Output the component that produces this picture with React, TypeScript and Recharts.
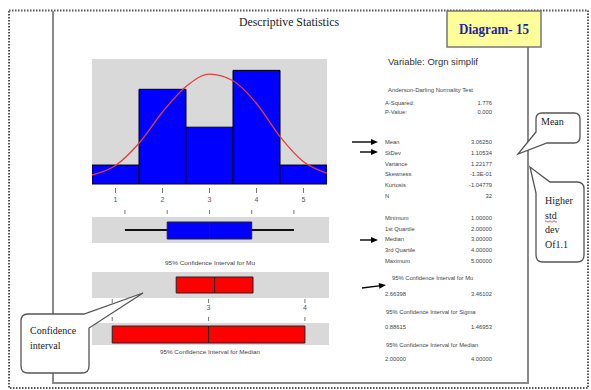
import { Bar, BarChart, CartesianGrid, Line, LineChart, XAxis, YAxis } from "recharts";

// histogram of the variable (bin centre, count) and the fitted normal curve
const BINS = [1, 2, 3, 4, 5];
const COUNTS = [2, 10, 6, 12, 2];
const CURVE_X = [0.5, 1, 1.5, 2, 2.5, 3, 3.5, 4, 4.5, 5, 5.5];
const CURVE_Y = [0.95, 1.95, 4.3, 7.6, 10.3, 11.6, 10.9, 8.5, 5.0, 2.35, 1.15];

// boxplot: min, q1, median, q3, max
const FIVE_NUMBER = [1, 2, 3, 4, 5];
const BOX_TICKS = [1, 2, 3, 4, 5];
const MEAN = 3.0625;
const MU_CI = [2.66398, 3.46102];
const MEDIAN_CI = [2, 4];
const CI_TICKS = [2, 3, 4];

const AD_LABELS = ["A-Squared:", "P-Value:"];
const AD_VALUES = ["1.776", "0.000"];
const MOMENT_LABELS = ["Mean", "StDev", "Variance", "Skewness", "Kurtosis", "N"];
const MOMENT_VALUES = ["3.06250", "1.10534", "1.22177", "-1.3E-01", "-1.04779", "32"];
const QUANTILE_LABELS = ["Minimum", "1st Quartile", "Median", "3rd Quartile", "Maximum"];
const QUANTILE_VALUES = ["1.00000", "2.00000", "3.00000", "4.00000", "5.00000"];
const SIGMA_CI = ["0.88615", "1.46953"];

const PANEL_GREY = "#d9d9d9";
const SANS = "'Liberation Sans', Arial, sans-serif";
const SERIF = "'Liberation Serif', 'Times New Roman', serif";
const STAT_TEXT = "#444";

// tick mark drawn a little away from the panel, label further out
function makeTick(side: "top" | "bottom", labels: boolean, gap = 3, len = 5, labelAt = 16) {
  return (props: any) => {
    const { x, y, payload } = props;
    const d = side === "bottom" ? 1 : -1;
    return (
      <g>
        <line x1={x} x2={x} y1={y + d * gap} y2={y + d * (gap + len)} stroke="#777" strokeWidth={1} />
        {labels && (
          <text x={x} y={y + d * labelAt} textAnchor="middle" fontSize={7} fill="#555" fontFamily={SANS}>
            {payload.value}
          </text>
        )}
      </g>
    );
  };
}

interface StripProps {
  left: number;
  top: number;
  plotHeight: number;
  axisHeight: number;
  side: "top" | "bottom";
  tick: (props: any) => any;
  domain: [number, number];
  ticks: number[];
  whisker?: [number, number];
  lower: [number, number];
  upper: [number, number];
  boxSize: number;
  fill: string;
}

function Strip(p: StripProps) {
  const data = [{ name: "s", whisker: p.whisker, lower: p.lower, upper: p.upper }];
  return (
    <div style={{ position: "absolute", left: p.left, top: p.top }}>
      <BarChart
        layout="vertical"
        width={237}
        height={p.plotHeight + p.axisHeight}
        data={data}
        margin={{ top: 0, right: 0, bottom: 0, left: 0 }}
      >
        <CartesianGrid horizontal={false} vertical={false} fill={PANEL_GREY} stroke="none" />
        <XAxis
          type="number"
          domain={p.domain}
          allowDataOverflow
          ticks={p.ticks}
          interval={0}
          orientation={p.side}
          height={p.axisHeight}
          axisLine={false}
          tickLine={false}
          tickSize={0}
          tickMargin={0}
          tick={p.tick}
        />
        {p.whisker && <YAxis yAxisId="w" type="category" dataKey="name" hide />}
        <YAxis yAxisId="lo" type="category" dataKey="name" hide />
        <YAxis yAxisId="hi" type="category" dataKey="name" hide />
        {p.whisker && <Bar yAxisId="w" dataKey="whisker" barSize={2} fill="#111" isAnimationActive={false} />}
        <Bar yAxisId="lo" dataKey="lower" barSize={p.boxSize} fill={p.fill} stroke="#222" strokeWidth={1} isAnimationActive={false} />
        <Bar yAxisId="hi" dataKey="upper" barSize={p.boxSize} fill={p.fill} stroke="#222" strokeWidth={1} isAnimationActive={false} />
      </BarChart>
    </div>
  );
}

function Arrow({ x1, y1, x2, y2 }: { x1: number; y1: number; x2: number; y2: number }) {
  const a = Math.atan2(y2 - y1, x2 - x1);
  const hx = x2 - 7 * Math.cos(a);
  const hy = y2 - 7 * Math.sin(a);
  const nx = -Math.sin(a) * 3;
  const ny = Math.cos(a) * 3;
  return (
    <g>
      <line x1={x1} y1={y1} x2={hx} y2={hy} stroke="#000" strokeWidth={1.4} />
      <polygon points={`${x2},${y2} ${hx + nx},${hy + ny} ${hx - nx},${hy - ny}`} fill="#000" />
    </g>
  );
}

function StatRows({ labels, values, y0, step }: { labels: string[]; values: string[]; y0: number; step: number }) {
  return (
    <g fontFamily={SANS} fontSize={5.8} fill={STAT_TEXT}>
      {labels.map((l, i) => (
        <g key={l}>
          <text x={385} y={y0 + i * step}>{l}</text>
          <text x={492} y={y0 + i * step} textAnchor="end">{values[i]}</text>
        </g>
      ))}
    </g>
  );
}

export default function App() {
  const histData = BINS.map((b, i) => ({ bin: b, count: COUNTS[i] }));
  const curveData = CURVE_X.map((x, i) => ({ x, y: CURVE_Y[i] }));

  return (
    <div style={{ position: "absolute", left: 0, top: 0, width: 591, height: 390, background: "#fff", overflow: "hidden" }}>
      {/* histogram with normal curve */}
      <div style={{ position: "absolute", left: 92, top: 59 }}>
        <BarChart width={235} height={150} data={histData} barCategoryGap={0} margin={{ top: 0, right: 0, bottom: 0, left: 0 }}>
          <CartesianGrid horizontal={false} vertical={false} fill={PANEL_GREY} stroke="none" />
          <XAxis
            dataKey="bin"
            height={25}
            interval={0}
            axisLine={false}
            tickLine={false}
            tickSize={0}
            tickMargin={0}
            tick={makeTick("bottom", true, 4, 5, 18)}
          />
          <YAxis hide domain={[0, 13.2]} />
          <Bar dataKey="count" fill="#0000ff" stroke="#000" strokeWidth={1} isAnimationActive={false} />
        </BarChart>
      </div>
      <div style={{ position: "absolute", left: 92, top: 59 }}>
        <LineChart width={235} height={150} data={curveData} margin={{ top: 0, right: 0, bottom: 25, left: 0 }}>
          <XAxis type="number" dataKey="x" domain={[0.5, 5.5]} hide />
          <YAxis hide domain={[0, 13.2]} />
          <Line dataKey="y" type="monotone" stroke="#e0403a" strokeWidth={1.3} dot={false} isAnimationActive={false} />
        </LineChart>
      </div>

      {/* boxplot */}
      <Strip
        left={92}
        top={205}
        plotHeight={26}
        axisHeight={12}
        side="top"
        tick={makeTick("top", false, 3, 4)}
        domain={[0.22, 5.83]}
        ticks={BOX_TICKS}
        whisker={[FIVE_NUMBER[0], FIVE_NUMBER[4]]}
        lower={[FIVE_NUMBER[1], FIVE_NUMBER[2]]}
        upper={[FIVE_NUMBER[2], FIVE_NUMBER[3]]}
        boxSize={17}
        fill="#0000ff"
      />

      {/* 95% CI for mu */}
      <Strip
        left={92}
        top={272}
        plotHeight={26}
        axisHeight={16}
        side="bottom"
        tick={makeTick("bottom", true, 1, 4, 12)}
        domain={[1.79, 4.25]}
        ticks={CI_TICKS}
        lower={[MU_CI[0], MEAN]}
        upper={[MEAN, MU_CI[1]]}
        boxSize={16}
        fill="#ff0000"
      />

      {/* 95% CI for median */}
      <Strip
        left={92}
        top={313}
        plotHeight={22}
        axisHeight={10}
        side="top"
        tick={makeTick("top", false, 2, 4)}
        domain={[1.79, 4.25]}
        ticks={CI_TICKS}
        lower={[MEDIAN_CI[0], FIVE_NUMBER[2]]}
        upper={[FIVE_NUMBER[2], MEDIAN_CI[1]]}
        boxSize={17}
        fill="#ff0000"
      />

      <svg width={591} height={390} style={{ position: "absolute", left: 0, top: 0, pointerEvents: "none" }}>
        {/* outer dotted frame */}
        <rect x={9} y={10.5} width={579} height={377.5} fill="none" stroke="#555" strokeWidth={2} strokeDasharray="1.5 1.5" />
        {/* inner panel lines */}
        <g stroke="#8a8a8a" strokeWidth={2} fill="none">
          <line x1={53} y1={11} x2={53} y2={314} />
          <line x1={53} y1={373} x2={53} y2={383} />
          <line x1={52} y1={383} x2={529} y2={383} />
          <line x1={528} y1={47} x2={528} y2={384} />
        </g>

        <text x={289} y={26} textAnchor="middle" fontFamily={SERIF} fontSize={13.5} fill="#222" textLength={100} lengthAdjust="spacingAndGlyphs">
          Descriptive Statistics
        </text>

        {/* chart captions */}
        <text x={210} y={265} textAnchor="middle" fontFamily={SANS} fontSize={6} fill="#444" textLength={90} lengthAdjust="spacingAndGlyphs">
          95% Confidence Interval for Mu
        </text>
        <text x={210} y={354} textAnchor="middle" fontFamily={SANS} fontSize={6} fill="#444" textLength={100} lengthAdjust="spacingAndGlyphs">
          95% Confidence Interval for Median
        </text>

        {/* right hand statistics */}
        <text x={388} y={65} fontFamily={SANS} fontSize={9.5} fill="#333" textLength={90} lengthAdjust="spacingAndGlyphs">
          Variable: Orgn simplif
        </text>
        <text x={388} y={92} fontFamily={SANS} fontSize={5.8} fill={STAT_TEXT} textLength={85} lengthAdjust="spacingAndGlyphs">
          Anderson-Darling Normality Test
        </text>
        <StatRows labels={AD_LABELS} values={AD_VALUES} y0={105} step={8.5} />
        <StatRows labels={MOMENT_LABELS} values={MOMENT_VALUES} y0={144} step={10.8} />
        <StatRows labels={QUANTILE_LABELS} values={QUANTILE_VALUES} y0={220} step={10.7} />
        <g fontFamily={SANS} fontSize={5.8} fill={STAT_TEXT}>
          <text x={392} y={280}>95% Confidence Interval for Mu</text>
          <text x={385} y={296}>{MU_CI[0].toFixed(5)}</text>
          <text x={492} y={296} textAnchor="end">{MU_CI[1].toFixed(5)}</text>
          <text x={386} y={314}>95% Confidence Interval for Sigma</text>
          <text x={385} y={329}>{SIGMA_CI[0]}</text>
          <text x={492} y={329} textAnchor="end">{SIGMA_CI[1]}</text>
          <text x={386} y={347}>95% Confidence Interval for Median</text>
          <text x={385} y={361}>{MEDIAN_CI[0].toFixed(5)}</text>
          <text x={492} y={361} textAnchor="end">{MEDIAN_CI[1].toFixed(5)}</text>
        </g>

        <Arrow x1={352} y1={142} x2={378} y2={142} />
        <Arrow x1={360} y1={152} x2={378} y2={152} />
        <Arrow x1={360} y1={240} x2={378} y2={240} />
        <Arrow x1={362} y1={288} x2={386} y2={285} />

        {/* Diagram label */}
        <rect x={447} y={11} width={94} height={36} fill="#ffff99" stroke="#777" strokeWidth={1.5} />
        <text x={494} y={34} textAnchor="middle" fontFamily={SERIF} fontWeight="bold" fontSize={15} fill="#1f1fa8" textLength={70} lengthAdjust="spacingAndGlyphs">
          Diagram- 15
        </text>

        {/* callouts */}
        <g fill="#fff" stroke="#555" strokeWidth={1.3}>
          <path d="M 542 113 L 574 113 Q 580 113 580 119 L 580 137 Q 580 143 574 143 L 547 143 L 518 154 L 536 132 L 536 119 Q 536 113 542 113 Z" />
          <path d="M 550 182 L 577 182 Q 584 182 584 189 L 584 255 Q 584 262 577 262 L 543 262 Q 536 262 536 255 L 536 193 L 530 167 Z" />
          <path d="M 28 314 L 84 314 L 143 293 L 89 328 L 89 366 Q 89 373 82 373 L 28 373 Q 21 373 21 366 L 21 321 Q 21 314 28 314 Z" />
        </g>
        <g fontFamily={SERIF} fontSize={10} fill="#222">
          <text x={541} y={125}>Mean</text>
          <text x={545} y={204}>Higher</text>
          <text x={545} y={219}>std</text>
          <text x={545} y={233}>dev</text>
          <text x={545} y={248}>Of1.1</text>
          <text x={30} y={334}>Confidence</text>
          <text x={30} y={349}>interval</text>
        </g>
        <path d="M 545 221.5 q 1 -1.5 2 0 t 2 0 t 2 0 t 2 0 t 2 0 t 2 0" fill="none" stroke="#d22" strokeWidth={0.8} />
      </svg>
    </div>
  );
}
